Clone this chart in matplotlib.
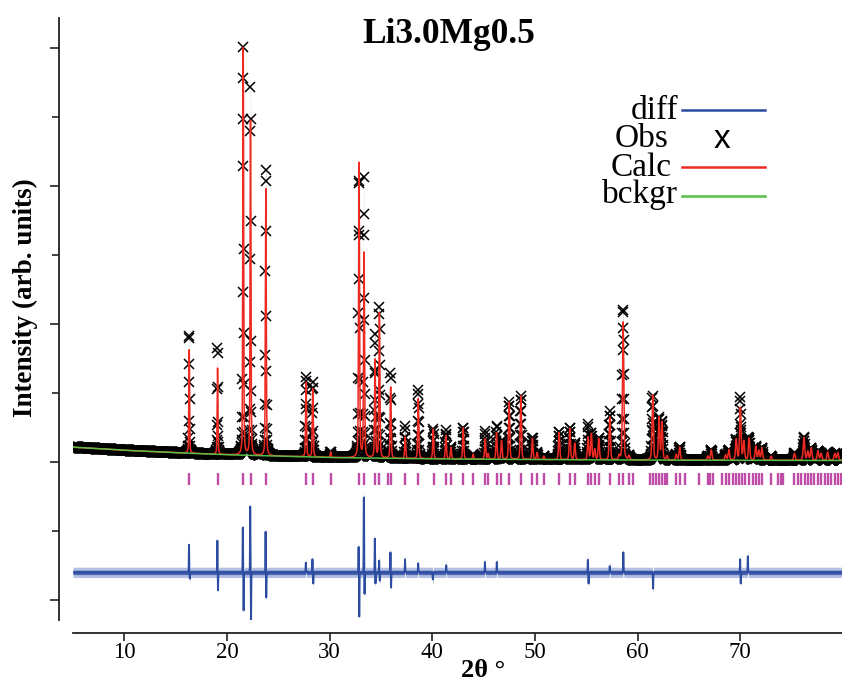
import numpy as np
import matplotlib
matplotlib.use("Agg")
import matplotlib.pyplot as plt
from matplotlib.ticker import MultipleLocator, NullFormatter

plt.rcParams["font.family"] = ["Liberation Serif", "DejaVu Serif"]

# scan range (degrees 2theta) and step
tth_min, tth_max, tth_step = 5.0, 79.9, 0.02

# background anchor points
bkg_pos = [5, 10, 15, 20, 25, 30, 40, 50, 60, 70, 80]
bkg_val = [215, 170, 135, 105, 85, 65, 45, 35, 28, 24, 22]

# calculated reflections: position and height above background
peak_pos = [16.32, 19.08, 21.58, 22.29, 23.78, 27.70, 28.35, 30.10, 32.86, 33.35,
            34.42, 34.84, 35.94, 37.36, 38.63, 40.09, 41.32, 41.81, 43.01, 43.98,
            45.15, 45.44, 46.25, 46.74, 47.48, 48.62, 49.75, 50.20, 50.86, 52.35,
            53.39, 53.87, 55.17, 55.49, 55.82, 56.21, 57.28, 58.19, 58.58, 59.16,
            61.46, 62.08, 62.37, 62.86, 63.76, 64.09, 66.84, 67.17, 68.56, 68.88,
            69.60, 70.00, 70.34, 70.85, 71.50, 71.80, 72.10, 73.00, 75.27, 76.20,
            76.57, 76.90, 77.55, 77.87, 78.50, 79.20, 79.50]
peak_height = [1500, 1250, 5900, 5020, 3870, 1080, 1020, 80, 4270, 3040,
               1420, 2100, 1030, 310, 890, 440, 340, 170, 460, 70,
               300, 80, 390, 270, 830, 920, 310, 100, 50, 400,
               460, 240, 330, 380, 150, 310, 620, 60, 2000, 60,
               945, 610, 550, 60, 80, 190, 60, 150, 80, 150,
               300, 760, 270, 320, 200, 140, 180, 60, 100, 330,
               130, 180, 140, 100, 120, 100, 110]

# misfit features (observed minus calculated)
diff_pos = [16.30, 16.38, 19.06, 19.12, 21.54, 21.62, 22.26, 22.34, 23.76, 23.82,
            27.68, 28.32, 28.40, 32.82, 32.88, 33.33, 33.40, 34.40, 34.46, 34.82,
            34.88, 35.92, 35.98, 37.34, 38.62, 40.05, 41.35, 45.12, 46.28, 55.15,
            55.22, 57.28, 58.60, 61.50, 69.98, 70.04, 70.73]
diff_amp = [400, -90, 460, -260, 650, -550, 955, -710, 590, -365,
            140, 190, -160, 370, -640, 1290, -310, 490, -160, 170,
            -120, 290, -220, 190, 130, -120, 120, 150, 150, 215,
            -160, 90, 290, -235, 190, -160, 275]
diff_offset = -1600

# counting-statistics envelope drawn around the observed and difference traces
obs_spread = 45
diff_spread_outer = 75
diff_spread_inner = 32

# Bragg reflection markers
refl_pos = [16.32, 19.08, 21.58, 22.29, 23.78, 27.70, 28.35, 30.10, 32.86, 33.35,
            34.42, 34.84, 35.71, 35.94, 37.36, 38.63, 40.12, 41.35, 41.84, 43.01,
            43.95, 45.13, 45.45, 46.25, 46.70, 47.48, 48.65, 49.75, 50.17, 50.86,
            52.35, 53.39, 53.87, 55.17, 55.49, 55.82, 56.21, 57.28, 58.19, 58.58,
            59.16, 59.55, 61.24, 61.50, 61.82, 62.08, 62.37, 62.63, 62.86, 63.76,
            64.09, 64.57, 65.96, 66.84, 67.07, 67.32, 68.24, 68.56, 68.88, 69.28,
            69.60, 69.90, 70.20, 70.50, 70.85, 71.20, 71.50, 71.80, 72.10, 73.00,
            73.65, 73.97, 74.20, 75.27, 75.60, 75.90, 76.25, 76.57, 76.90, 77.20,
            77.55, 77.87, 78.20, 78.50, 78.85, 79.20, 79.50, 79.80]

x_ticks = [10, 20, 30, 40, 50, 60, 70]


def pseudo_voigt(x, center, fwhm, eta=0.35):
    u = (x - center) / fwhm
    gauss = np.exp(-4 * np.log(2) * u ** 2)
    lorentz = 1 / (1 + 4 * u ** 2)
    return eta * lorentz + (1 - eta) * gauss


def peak_fwhm(tth):
    return 0.085 + 0.0014 * (tth - 15)


tth = np.arange(tth_min, tth_max + tth_step / 2, tth_step)
bckgr = np.interp(tth, bkg_pos, bkg_val)

calc = bckgr.copy()
for p, h in zip(peak_pos, peak_height):
    calc += h * pseudo_voigt(tth, p, peak_fwhm(p))

misfit = np.zeros_like(tth)
for p, a in zip(diff_pos, diff_amp):
    misfit += a * np.exp(-4 * np.log(2) * ((tth - p) / 0.04) ** 2)

obs = calc + misfit
diff = obs - calc + diff_offset

fig = plt.figure(figsize=(8.42, 6.84), dpi=100)
ax = fig.add_axes([73 / 842, 1 - 620 / 684, 1 - 73 / 842, (620 - 18) / 684])

ax.fill_between(tth, obs - obs_spread, obs + obs_spread, color="black", lw=0, zorder=1)
ax.plot(tth, obs, linestyle="none", marker="x", ms=7.5, mew=1.1, color="black", zorder=2)
ax.plot(tth, calc, color="#ee2a22", lw=1.1, zorder=3)
ax.plot(tth, bckgr, color="#58c047", lw=1.1, zorder=4)
ax.vlines(refl_pos, -330, -160, color="#bf4ca6", lw=1.7, zorder=3)
ax.fill_between(tth, diff - diff_spread_outer, diff + diff_spread_outer,
                color="#b3bfe3", lw=0, zorder=2)
ax.fill_between(tth, diff - diff_spread_inner, diff + diff_spread_inner,
                color="#4965b0", lw=0, zorder=2)
ax.plot(tth, diff, color="#2b4ca0", lw=1.4, zorder=3)

ax.set_xlim(tth_min, tth_max)
ax.set_ylim(-2290, 6435)

for side in ("top", "right"):
    ax.spines[side].set_visible(False)
ax.spines["left"].set_position(("outward", 10))
ax.spines["bottom"].set_position(("outward", 9.4))
for side in ("left", "bottom"):
    ax.spines[side].set_linewidth(1.3)
    ax.spines[side].set_color("#222222")

ax.set_xticks(x_ticks)
ax.tick_params(axis="x", direction="out", length=5.8, width=1.2, color="#222222",
               labelsize=16.5, pad=1)
ax.yaxis.set_major_locator(MultipleLocator(2000))
ax.yaxis.set_minor_locator(MultipleLocator(1000))
ax.yaxis.set_major_formatter(NullFormatter())
ax.tick_params(axis="y", which="major", direction="out", length=6.5, width=1.2, color="#222222")
ax.tick_params(axis="y", which="minor", direction="out", length=5, width=1.2, color="#222222")

fig.text(25 / 842, 1 - 298 / 684, "Intensity (arb. units)", rotation=90, fontsize=19.5,
         fontweight="bold", ha="center", va="center")
fig.text(483 / 842, 1 - 677 / 684, "2θ °", fontsize=19, fontweight="bold",
         ha="center", va="baseline")
fig.text(449 / 842, 1 - 43 / 684, "Li3.0Mg0.5", fontsize=25.5, fontweight="bold",
         ha="center", va="baseline")

# legend entries drawn by hand
entries = [("diff", 678, 119, 110, "#2b4ca0"),
           ("Obs", 668, 147, None, None),
           ("Calc", 672, 176, 167, "#ee2a22"),
           ("bckgr", 678, 203, 196, "#58c047")]
for label, xr, yb, yl, col in entries:
    fig.text(xr / 842, 1 - yb / 684, label, fontsize=24, ha="right", va="baseline")
    if col is not None:
        fig.add_artist(plt.Line2D([682 / 842, 765 / 842], [1 - yl / 684] * 2,
                                  color=col, lw=1.8, transform=fig.transFigure))
fig.text(722 / 842, 1 - 140 / 684, "x", fontsize=24, family="Liberation Sans",
         ha="center", va="center")

fig.savefig("out.png", dpi=100)
